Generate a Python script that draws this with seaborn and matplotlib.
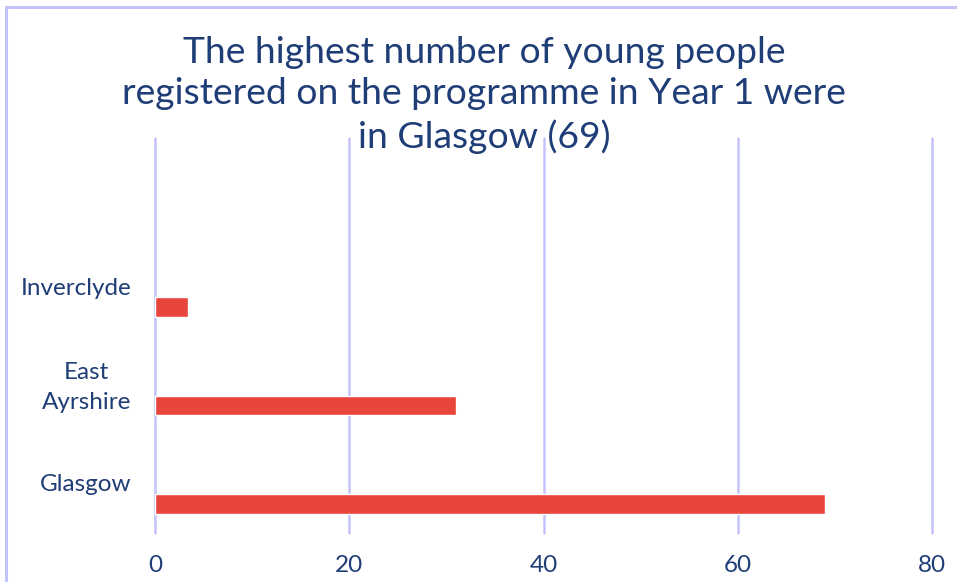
import matplotlib
matplotlib.use("Agg")
import matplotlib.pyplot as plt
from matplotlib.patches import Rectangle
import seaborn as sns
import pandas as pd

categories = ["Inverclyde", "East Ayrshire", "Glasgow"]
tick_labels = ["Inverclyde", "East\nAyrshire", "Glasgow"]
values = [3.4, 31, 69]
x_ticks = [0, 20, 40, 60, 80]

sns.set_theme(style="white")
plt.rcParams["font.family"] = ["Lato", "DejaVu Sans"]

navy = "#1F3D76"
grid_c = "#C4C2FA"
bar_c = "#E8453C"

df = pd.DataFrame({"area": categories, "count": values})

fig = plt.figure(figsize=(9.57, 5.82), dpi=100)
ax = fig.add_axes([155/957, 1-533/582, (932-155)/957, (533-138)/582])

sns.barplot(data=df, x="count", y="area", orient="h", color=bar_c,
            width=0.2, ax=ax, saturation=1, order=categories)

ax.set_xlim(0, 80)
ax.set_ylim(2 + 29/98.5, -(307-138)/98.5)
ax.set_xticks(x_ticks)
ax.set_xticklabels([str(t) for t in x_ticks])
ax.set_yticks([-0.21, 0.75, 1.78])
ax.set_yticklabels(tick_labels, multialignment="center", linespacing=1.55)
ax.set_xlabel("")
ax.set_ylabel("")
ax.tick_params(axis="both", length=0, labelsize=17.5, colors=navy)
ax.tick_params(axis="x", pad=16)
ax.tick_params(axis="y", pad=17)
for s in ax.spines.values():
    s.set_visible(False)
ax.grid(False)
for t in x_ticks:
    ax.axvline(t, color=grid_c, lw=1.8, zorder=0, clip_on=False)

fig.text(484/957, 1-95/582,
         "The highest number of young people\nregistered on the programme in Year 1 were\nin Glasgow (69)",
         ha="center", va="center", fontsize=26.8, color=navy, linespacing=1.3)

fig.patches.append(Rectangle((6/957, -0.5), 2.0, 1.5 - 7/582,
                             transform=fig.transFigure, fill=False,
                             edgecolor=grid_c, lw=2.2))

fig.savefig("out.png", dpi=100)
